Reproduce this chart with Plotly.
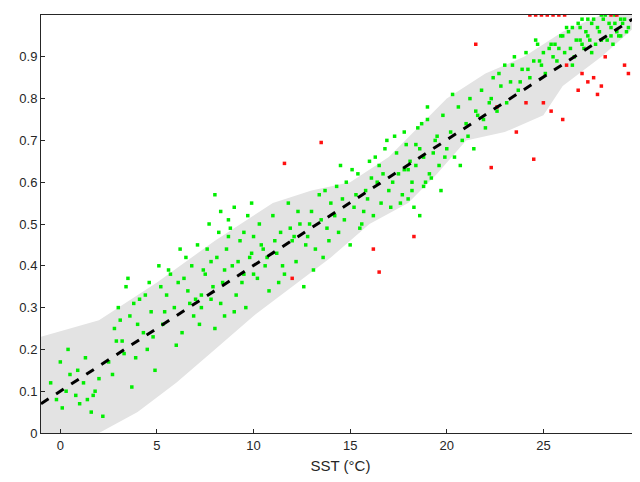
import plotly.graph_objects as go

# green points (SST, value)
green_x = [-0.5, -0.2, 0.0, 0.1, 0.3, 0.5, 0.8, 1.0, 1.2, 1.4, 1.6, 1.8, 2.0, 2.2, 0.4, 0.9, 1.3, 1.7, 2.5, 2.8,
           3.0, 3.2, 3.4, 3.6, 3.9, 4.1, 4.3, 4.5, 4.7, 4.9, 5.1, 5.3, 5.5, 5.7, 5.9, 6.1, 6.3, 6.5, 6.7, 6.9,
           3.1, 3.5, 4.0, 4.4, 4.8, 5.2, 5.6, 6.0, 6.4, 6.8, 2.7, 3.3, 3.8, 4.6, 5.4, 6.2, 6.6, 7.0, 2.9, 3.7,
           7.1, 7.3, 7.5, 7.7, 7.9, 8.1, 8.3, 8.5, 8.7, 8.9, 9.1, 9.3, 9.5, 9.7, 9.9, 7.2, 7.6, 8.0, 8.4, 8.8,
           9.2, 9.6, 10.0, 7.4, 7.8, 8.2, 8.6, 9.0, 9.4, 9.8, 8.0, 8.5, 9.0, 7.8, 8.3, 9.5, 10.0, 9.9, 7.3, 8.7,
           10.2, 10.4, 10.6, 10.8, 11.0, 11.2, 11.4, 11.6, 11.8, 12.0, 12.2, 12.4, 12.6, 12.8, 13.0, 13.2, 13.4, 13.6, 13.8, 14.0,
           10.3, 10.7, 11.1, 11.5, 11.9, 12.3, 12.7, 13.1, 13.5, 13.9, 10.5, 11.3, 12.1, 12.9, 13.7, 14.2, 14.4, 14.6, 14.8, 15.0,
           15.2, 15.4, 15.6, 15.8, 16.0, 16.2, 16.4, 16.6, 16.8, 17.0, 14.3, 14.7, 15.1, 15.5, 15.9, 16.3, 16.7, 17.1, 14.5, 15.3,
           16.1, 16.9, 15.7, 16.5, 17.2, 17.4, 17.6, 17.8, 18.0, 18.2, 18.4, 18.6, 18.8, 19.0, 19.2, 19.4, 19.6, 19.8, 20.0, 17.3,
           17.7, 18.1, 18.5, 18.9, 19.3, 19.7, 17.5, 17.9, 18.3, 18.7, 19.1, 19.5, 19.9, 18.0, 18.2, 18.4, 18.6, 17.8, 19.0, 18.8,
           20.2, 20.4, 20.6, 20.8, 21.0, 21.2, 21.4, 21.6, 21.8, 22.0, 22.2, 22.4, 22.6, 22.8, 23.0, 20.3, 20.7, 21.1, 21.5, 21.9,
           22.3, 22.7, 23.1, 23.3, 23.5, 23.7, 23.9, 24.1, 24.3, 24.5, 24.7, 24.9, 25.1, 25.3, 25.5, 23.4, 23.8, 24.2, 24.6, 25.0,
           25.4, 25.7, 25.9, 26.1, 26.3, 26.5, 26.7, 26.9, 27.1, 27.3, 27.5, 27.7, 27.9, 28.1, 28.3, 28.5, 28.7, 28.9, 29.1, 29.3,
           25.8, 26.2, 26.6, 27.0, 27.4, 27.8, 28.2, 28.6, 29.0, 29.4, 26.0, 26.4, 26.8, 27.2, 27.6, 28.0, 28.4, 28.8, 29.2, 27.5,
           28.5, 27.0, 26.5, 28.0, 29.0, 27.3, 26.9, 28.7, 25.6, 24.8]
green_y = [0.12, 0.08, 0.17, 0.06, 0.10, 0.14, 0.09, 0.07, 0.12, 0.08, 0.05, 0.10, 0.13, 0.04, 0.20, 0.15, 0.18, 0.09, 0.17, 0.25,
           0.30, 0.22, 0.35, 0.28, 0.18, 0.32, 0.24, 0.20, 0.29, 0.15, 0.40, 0.26, 0.33, 0.38, 0.30, 0.36, 0.24, 0.42, 0.31, 0.28,
           0.27, 0.37, 0.26, 0.33, 0.23, 0.35, 0.39, 0.21, 0.37, 0.40, 0.14, 0.19, 0.31, 0.36, 0.29, 0.44, 0.34, 0.32, 0.22, 0.11,
           0.45, 0.30, 0.38, 0.50, 0.35, 0.42, 0.53, 0.28, 0.47, 0.40, 0.33, 0.46, 0.38, 0.52, 0.43, 0.26, 0.44, 0.57, 0.36, 0.49,
           0.41, 0.30, 0.47, 0.39, 0.32, 0.48, 0.44, 0.54, 0.36, 0.42, 0.25, 0.39, 0.29, 0.41, 0.31, 0.48, 0.38, 0.55, 0.33, 0.51,
           0.37, 0.45, 0.40, 0.34, 0.52, 0.43, 0.48, 0.38, 0.55, 0.46, 0.41, 0.50, 0.35, 0.47, 0.53, 0.44, 0.57, 0.42, 0.49, 0.55,
           0.50, 0.42, 0.46, 0.40, 0.49, 0.53, 0.45, 0.39, 0.51, 0.46, 0.44, 0.36, 0.47, 0.50, 0.58, 0.52, 0.48, 0.56, 0.60, 0.45,
           0.54, 0.62, 0.50, 0.58, 0.65, 0.52, 0.60, 0.55, 0.68, 0.58, 0.59, 0.51, 0.63, 0.49, 0.56, 0.66, 0.62, 0.54, 0.64, 0.57,
           0.61, 0.70, 0.53, 0.64, 0.60, 0.67, 0.55, 0.72, 0.63, 0.58, 0.69, 0.52, 0.66, 0.75, 0.61, 0.70, 0.64, 0.76, 0.68, 0.71,
           0.57, 0.65, 0.73, 0.60, 0.67, 0.58, 0.62, 0.69, 0.54, 0.74, 0.62, 0.71, 0.66, 0.56, 0.60, 0.64, 0.68, 0.63, 0.78, 0.59,
           0.72, 0.66, 0.78, 0.70, 0.74, 0.80, 0.68, 0.76, 0.82, 0.73, 0.79, 0.85, 0.77, 0.83, 0.88, 0.81, 0.64, 0.71, 0.77, 0.75,
           0.80, 0.86, 0.79, 0.84, 0.90, 0.82, 0.87, 0.91, 0.85, 0.89, 0.93, 0.88, 0.86, 0.92, 0.90, 0.88, 0.84, 0.87, 0.94, 0.91,
           0.93, 0.89, 0.95, 0.91, 0.96, 0.88, 0.94, 0.97, 0.92, 0.95, 0.98, 0.93, 0.96, 0.99, 0.94, 0.97, 1.00, 0.95, 0.98, 0.96,
           0.92, 0.97, 0.90, 0.99, 0.94, 0.97, 1.00, 0.93, 0.99, 0.97, 0.95, 0.92, 0.98, 0.96, 0.99, 0.94, 0.98, 0.96, 0.99, 0.91,
           0.95, 0.93, 0.97, 1.00, 0.95, 0.99, 0.94, 0.98, 0.93, 0.89]

red_x = [11.6, 13.5, 16.2, 16.5, 18.3, 12.0, 21.5, 22.3, 24.3, 24.6, 24.9, 25.2, 25.5, 25.8, 26.1, 28.5, 28.8,
         24.5, 25.0, 25.4, 26.0, 24.1, 26.8, 27.0, 27.3, 27.6, 28.0, 29.4, 23.6, 22.6, 26.2, 28.2, 29.2, 27.8]
red_y = [0.645, 0.695, 0.44, 0.385, 0.47, 0.37, 0.93, 0.635, 1.0, 1.0, 1.0, 1.0, 1.0, 1.0, 1.0, 1.0, 1.0,
         0.655, 0.79, 0.77, 0.75, 0.79, 0.82, 0.86, 0.84, 0.85, 0.83, 0.86, 0.72, 0.78, 0.88, 0.90, 0.88, 0.81]

# grey envelope
band_x = [-1, 2, 5, 8, 11, 13, 15, 17, 18.5, 20, 22, 24, 26, 28, 29.7,
          29.7, 28, 26, 25, 23, 21, 19.5, 18, 16, 14, 12, 10, 8, 6, 4, 2, -1]
band_y = [0.23, 0.27, 0.36, 0.46, 0.55, 0.58, 0.60, 0.66, 0.73, 0.80, 0.86, 0.90, 0.96, 1.0, 1.0,
          0.97, 0.90, 0.83, 0.76, 0.72, 0.70, 0.62, 0.55, 0.50, 0.42, 0.35, 0.28, 0.20, 0.12, 0.05, 0.0, 0.0]

fit_x = [-1, 29.6]
fit_y = [0.07, 0.99]

fig = go.Figure()
fig.add_trace(go.Scatter(x=band_x, y=band_y, fill="toself", fillcolor="#e3e3e3",
                         line=dict(width=0), mode="lines", hoverinfo="skip"))
fig.add_trace(go.Scatter(x=green_x, y=green_y, mode="markers",
                         marker=dict(color="#00ee00", size=3.5, symbol="square")))
fig.add_trace(go.Scatter(x=red_x, y=red_y, mode="markers",
                         marker=dict(color="#ff1010", size=3.5, symbol="square")))
fig.add_trace(go.Scatter(x=fit_x, y=fit_y, mode="lines",
                         line=dict(color="black", width=3, dash="dash")))

axis = dict(showgrid=False, zeroline=False, showline=True, linecolor="#262626", mirror=True,
            ticks="inside", ticklen=4, tickcolor="#262626", automargin=False,
            tickfont=dict(size=13, color="#262626"))
fig.update_xaxes(range=[-1, 30], tickvals=[0, 5, 10, 15, 20, 25, 30],
                 title=dict(text="SST (°C)", font=dict(size=15, color="#262626"), standoff=8), **axis)
fig.update_yaxes(range=[0, 1], tickvals=[0, 0.1, 0.2, 0.3, 0.4, 0.5, 0.6, 0.7, 0.8, 0.9, 1],
                 ticktext=["0", "0.1", "0.2", "0.3", "0.4", "0.5", "0.6", "0.7", "0.8", "0.9", "1"], **axis)
fig.update_layout(width=640, height=482, showlegend=False, plot_bgcolor="white", paper_bgcolor="white",
                  margin=dict(l=33, r=8, t=7, b=57), font=dict(family="Liberation Sans"))
fig.write_html("out.html")
